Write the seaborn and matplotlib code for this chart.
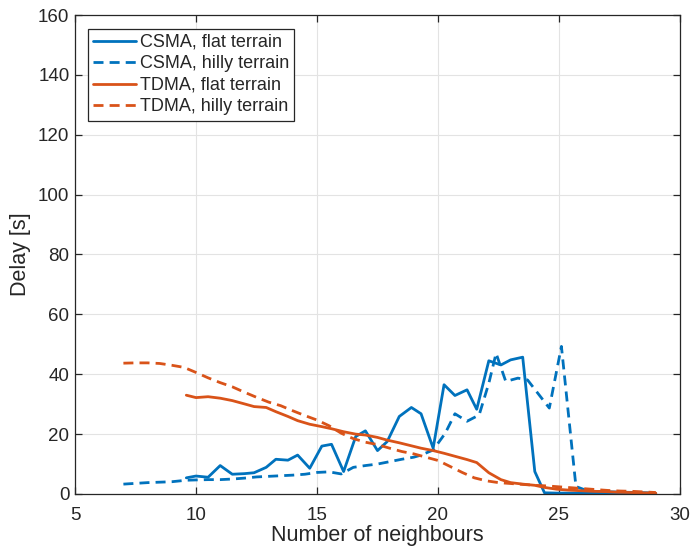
import numpy as np
import pandas as pd
import matplotlib
matplotlib.use("Agg")
import matplotlib.pyplot as plt
import seaborn as sns

# --- data -------------------------------------------------------------
csma_flat_x = [9.6, 10.0, 10.5, 11.0, 11.5, 12.0, 12.4, 12.9, 13.3, 13.8, 14.2, 14.7,
               15.2, 15.6, 16.1, 16.6, 17.0, 17.5, 17.9, 18.4, 18.9, 19.3, 19.8, 20.25,
               20.7, 21.2, 21.6, 22.1, 22.6, 23.0, 23.5, 24.0, 24.4, 24.9, 25.4, 25.9,
               26.4, 26.9, 27.4, 27.9, 28.4, 29.0]
csma_flat_y = [5.4, 6.0, 5.6, 9.5, 6.6, 6.8, 7.1, 8.9, 11.6, 11.3, 13.0, 8.6,
               16.0, 16.6, 7.5, 19.2, 21.1, 14.5, 17.5, 25.9, 28.9, 26.8, 15.3, 36.5,
               32.9, 34.8, 28.3, 44.5, 43.1, 44.8, 45.7, 7.5, 0.4, 0.3, 0.3, 0.3,
               0.2, 0.2, 0.2, 0.2, 0.2, 0.2]

csma_hilly_x = [7.0, 8.0, 9.0, 9.6, 10.0, 10.5, 11.0, 11.5, 12.0, 12.5, 13.0, 13.5,
                14.0, 14.5, 15.0, 15.5, 16.0, 16.5, 17.0, 17.5, 18.0, 18.5, 19.0, 19.3,
                19.8, 20.3, 20.7, 21.2, 21.7, 22.1, 22.4, 22.8, 23.3, 23.7, 24.6, 25.1,
                25.7, 26.2, 26.7, 27.2, 27.7, 28.2, 28.7, 29.0]
csma_hilly_y = [3.3, 3.8, 4.1, 4.6, 4.7, 4.8, 4.8, 5.0, 5.3, 5.7, 5.9, 6.1,
                6.3, 6.6, 7.2, 7.4, 6.7, 8.9, 9.5, 10.0, 10.8, 11.6, 12.3, 13.0,
                14.7, 20.3, 26.8, 24.3, 26.4, 37.0, 47.0, 37.6, 38.7, 38.1, 28.7, 49.3,
                2.5, 1.0, 0.8, 0.7, 0.6, 0.5, 0.4, 0.3]

tdma_flat_x = csma_flat_x
tdma_flat_y = [33.0, 32.2, 32.5, 32.0, 31.2, 30.1, 29.2, 28.9, 27.5, 25.9, 24.5, 23.3,
               22.5, 21.8, 20.8, 20.0, 19.7, 18.9, 18.0, 17.1, 16.1, 15.3, 14.5, 13.6,
               12.6, 11.5, 10.5, 7.1, 4.8, 3.8, 3.3, 2.9, 2.2, 1.6, 1.3, 1.1,
               0.9, 0.8, 0.6, 0.5, 0.4, 0.3]

tdma_hilly_x = [7.0, 7.5, 8.0, 8.5, 9.0, 9.5, 10.0, 10.5, 11.0, 11.5, 12.0, 12.5,
                13.0, 13.5, 14.0, 14.5, 15.0, 15.5, 16.0, 16.5, 17.0, 17.5, 18.0, 18.5,
                19.0, 19.5, 20.0, 20.5, 21.0, 21.5, 22.0, 22.5, 23.0, 23.5, 24.0, 24.5,
                25.0, 25.5, 26.0, 26.5, 27.0, 27.5, 28.0, 28.5, 29.0]
tdma_hilly_y = [43.7, 43.8, 43.8, 43.6, 43.0, 42.3, 40.6, 38.8, 37.2, 35.8, 34.0, 32.3,
                30.7, 29.5, 27.8, 26.2, 24.7, 22.8, 20.3, 18.5, 17.3, 16.5, 15.3, 14.2,
                13.4, 12.3, 11.2, 9.2, 7.2, 5.4, 4.4, 3.8, 3.5, 3.2, 2.9, 2.7,
                2.4, 2.1, 1.8, 1.5, 1.2, 1.0, 0.9, 0.7, 0.5]

series_labels = ["CSMA, flat terrain", "CSMA, hilly terrain",
                 "TDMA, flat terrain", "TDMA, hilly terrain"]
x_ticks = [5, 10, 15, 20, 25, 30]
y_ticks = [0, 20, 40, 60, 80, 100, 120, 140, 160]

# --- long-form table ----------------------------------------------------
frames = []
for label, xs, ys in zip(series_labels,
                         [csma_flat_x, csma_hilly_x, tdma_flat_x, tdma_hilly_x],
                         [csma_flat_y, csma_hilly_y, tdma_flat_y, tdma_hilly_y]):
    frames.append(pd.DataFrame({"x": xs, "y": ys, "series": label}))
df = pd.concat(frames, ignore_index=True)

# --- style --------------------------------------------------------------
sns.set_theme(style="whitegrid")
plt.rcParams["font.family"] = ["Liberation Sans", "DejaVu Sans"]

blue = "#0072BD"
orange = "#D95319"
palette = {series_labels[0]: blue, series_labels[1]: blue,
           series_labels[2]: orange, series_labels[3]: orange}
dash_map = {series_labels[0]: "", series_labels[1]: (3.6, 2.2),
            series_labels[2]: "", series_labels[3]: (3.6, 2.2)}

fig = plt.figure(figsize=(6.96, 5.58), dpi=100)
ax = fig.add_axes([75 / 696, 1 - 494 / 558, 605 / 696, 479 / 558])

sns.lineplot(data=df, x="x", y="y", hue="series", style="series",
             palette=palette, dashes=dash_map, hue_order=series_labels,
             style_order=series_labels, sort=False, estimator=None,
             linewidth=2.0, ax=ax)

ax.set_xlim(5, 30)
ax.set_ylim(0, 160)
ax.set_xticks(x_ticks)
ax.set_yticks(y_ticks)
ax.set_xlabel("Number of neighbours", fontsize=15.5, color="#262626", labelpad=1)
ax.set_ylabel("Delay [s]", fontsize=15.5, color="#262626", labelpad=5)

ax.set_facecolor("white")
ax.grid(True, color="#e3e3e3", linewidth=0.8)
for side in ["left", "right", "top", "bottom"]:
    ax.spines[side].set_visible(True)
    ax.spines[side].set_color("#262626")
    ax.spines[side].set_linewidth(0.9)
ax.tick_params(direction="in", length=5, width=0.9, colors="#262626",
               labelsize=13.5, top=True, right=True, bottom=True, left=True)
ax.tick_params(axis="x", pad=9)
ax.tick_params(axis="y", pad=4)

leg = ax.legend(loc="upper left", bbox_to_anchor=(0.0215, 0.971), fontsize=13,
                frameon=True, fancybox=False, edgecolor="#262626",
                handlelength=2.4, handletextpad=0.2, borderpad=0.28,
                labelspacing=0.25, borderaxespad=0.0)
leg.get_frame().set_linewidth(0.9)
leg.get_frame().set_facecolor("white")
leg.get_frame().set_alpha(1.0)
for line in leg.get_lines():
    line.set_linewidth(2.0)

fig.savefig("out.png", dpi=100, facecolor="white")
